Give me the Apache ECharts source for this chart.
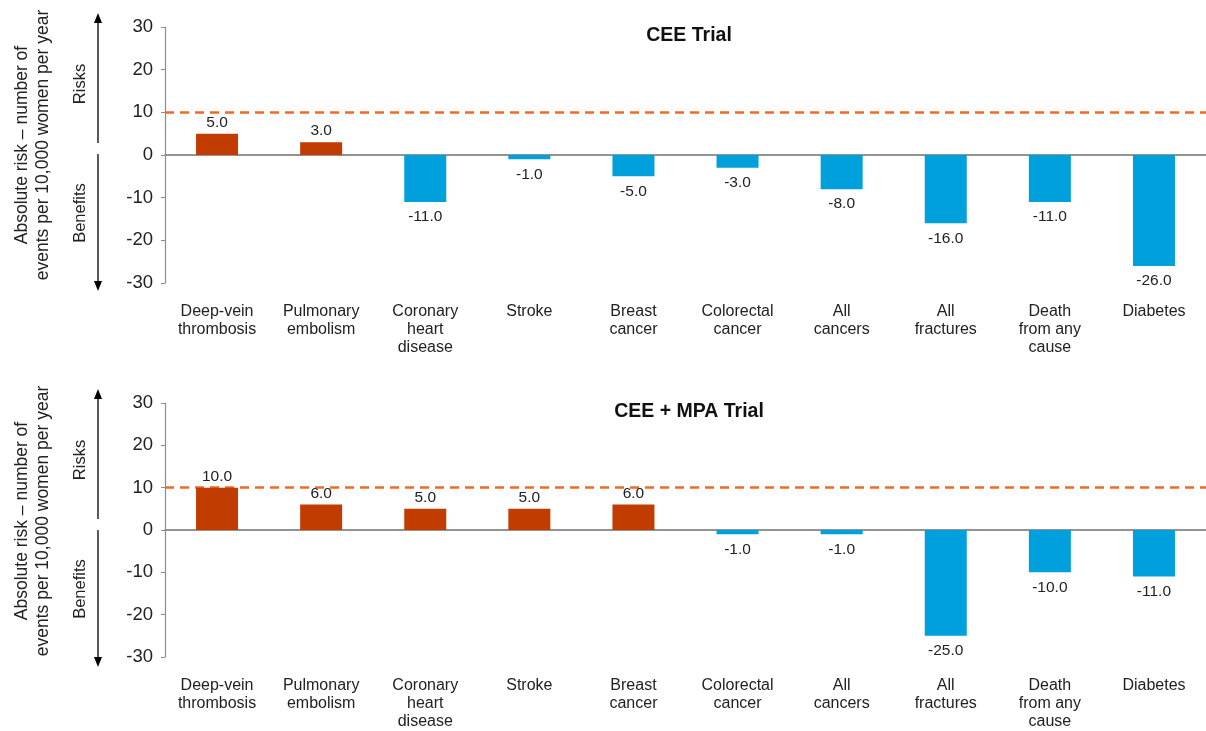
<!DOCTYPE html>
<html>
<head>
<meta charset="utf-8">
<script src="https://cdn.jsdelivr.net/npm/echarts@6/dist/echarts.min.js"></script>
<style>
  html, body { margin: 0; padding: 0; background: #fff; }
  #chart { width: 1206px; height: 731px; }
</style>
</head>
<body>
<div id="chart"></div>
<script>
const categories = [
  'Deep-vein\nthrombosis', 'Pulmonary\nembolism', 'Coronary\nheart\ndisease', 'Stroke',
  'Breast\ncancer', 'Colorectal\ncancer', 'All\ncancers', 'All\nfractures',
  'Death\nfrom any\ncause', 'Diabetes'
]
const ceeValues = [5, 3, -11, -1, -5, -3, -8, -16, -11, -26]
const ceeMpaValues = [10, 6, 5, 5, 6, -1, -1, -25, -10, -11]
const panelTitles = ['CEE Trial', 'CEE + MPA Trial']
const referenceLine = 10

const riskColor = '#c03c00'
const benefitColor = '#00a0dc'
const fontFamily = 'Liberation Sans, Arial, sans-serif'
const panelTops = [27, 403]
const plotHeight = 256

function barData(values) {
  return values.map(v => ({
    value: v,
    itemStyle: { color: v >= 0 ? riskColor : benefitColor },
    label: { position: v >= 0 ? 'top' : 'bottom', distance: v >= 0 ? 3 : 7 }
  }))
}

function sideDecor(top) {
  const ax = 98
  const mid = top + plotHeight / 2
  const black = '#000'
  return [
    // up arrow (risks)
    { type: 'line', shape: { x1: ax, y1: top - 6, x2: ax, y2: mid - 12 }, style: { stroke: black, lineWidth: 1.3 } },
    { type: 'polygon', shape: { points: [[ax, top - 14], [ax - 4, top - 4], [ax + 4, top - 4]] }, style: { fill: black } },
    // down arrow (benefits)
    { type: 'line', shape: { x1: ax, y1: mid - 1, x2: ax, y2: top + plotHeight }, style: { stroke: black, lineWidth: 1.3 } },
    { type: 'polygon', shape: { points: [[ax, top + plotHeight + 8], [ax - 4, top + plotHeight - 2], [ax + 4, top + plotHeight - 2]] }, style: { fill: black } },
    {
      type: 'text', x: 80, y: top + 57, rotation: Math.PI / 2,
      style: { text: 'Risks', fill: '#222', font: '16.5px ' + fontFamily, textAlign: 'center', textVerticalAlign: 'middle' }
    },
    {
      type: 'text', x: 80, y: top + 186, rotation: Math.PI / 2,
      style: { text: 'Benefits', fill: '#222', font: '16.5px ' + fontFamily, textAlign: 'center', textVerticalAlign: 'middle' }
    },
    {
      type: 'text', x: 33, y: top + 118, rotation: Math.PI / 2,
      style: {
        text: 'Absolute risk \u2013 number of\nevents per 10,000 women per year',
        fill: '#222', font: '17.5px ' + fontFamily, lineHeight: 21,
        textAlign: 'center', textVerticalAlign: 'middle'
      }
    }
  ]
}

const chart = echarts.init(document.getElementById('chart'))

const grids = panelTops.map(t => ({ left: 165, top: t, width: 1046, height: plotHeight }))

chart.setOption({
  animation: false,
  textStyle: { fontFamily },
  title: panelTitles.map((t, i) => ({
    text: t,
    left: 684,
    top: panelTops[i] - 6,
    textAlign: 'center',
    textStyle: { fontSize: 19.5, fontWeight: 'bold', color: '#111', fontFamily }
  })),
  grid: grids,
  xAxis: grids.map((g, i) => ({
    type: 'category',
    gridIndex: i,
    data: categories,
    position: 'bottom',
    offset: 10,
    axisLine: { lineStyle: { color: '#8c8c8c', width: 1.5 } },
    axisTick: { show: false },
    axisLabel: { color: '#222', fontSize: 16, lineHeight: 18, margin: 10, interval: 0, fontFamily },
    splitLine: { show: false }
  })),
  yAxis: grids.map((g, i) => ({
    type: 'value',
    gridIndex: i,
    min: -30,
    max: 30,
    interval: 10,
    axisLine: { show: true, lineStyle: { color: '#8c8c8c', width: 1.2 } },
    axisTick: { show: true, inside: false, length: 4, lineStyle: { color: '#8c8c8c' } },
    axisLabel: { color: '#222', fontSize: 18.5, margin: 12, fontFamily },
    splitLine: { show: false }
  })),
  series: [ceeValues, ceeMpaValues].map((vals, i) => ({
    type: 'bar',
    xAxisIndex: i,
    yAxisIndex: i,
    barWidth: 42,
    data: barData(vals),
    label: {
      show: true,
      color: '#222',
      fontSize: 15.5,
      fontFamily,
      formatter: p => p.value.toFixed(1)
    },
    markLine: {
      silent: true,
      symbol: ['none', 'none'],
      label: { show: false },
      z: 1,
      data: [
        { yAxis: 0, lineStyle: { color: '#8c8c8c', type: 'solid', width: 1.5 } },
        { yAxis: referenceLine, lineStyle: { color: '#ee6a28', type: [9, 6], width: 2.5 } }
      ]
    }
  })),
  graphic: panelTops.flatMap(t => sideDecor(t))
})
</script>
</body>
</html>
